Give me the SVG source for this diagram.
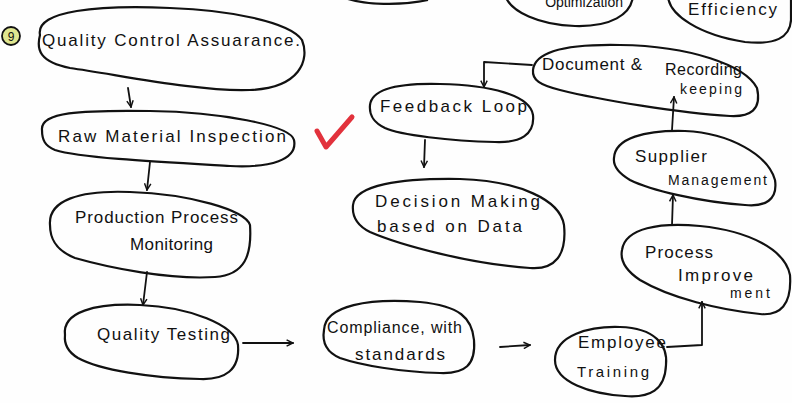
<svg xmlns="http://www.w3.org/2000/svg" width="792" height="403" viewBox="0 0 792 403">
<style>
.n{fill:none;stroke:#111;stroke-width:2.2;stroke-linejoin:round}
.c{fill:none;stroke:#111;stroke-width:1.8;stroke-linecap:round;stroke-linejoin:round}
text{font-family:"Liberation Sans",Arial,sans-serif;font-size:17px;fill:#111}
.s{font-size:14px}
</style>
<defs>
<marker id="ah" viewBox="0 0 10 10" refX="9" refY="5" markerWidth="8" markerHeight="8" markerUnits="userSpaceOnUse" orient="auto">
<path d="M1,1 L9,5 L1,9" fill="none" stroke="#111" stroke-width="1.8"/>
</marker>
</defs>
<rect width="792" height="403" fill="#fefefe"/>

<g id="top-partial">
<path class="n" d="M345,-2 C365,5 400,6 428,0"/>
</g>
<g id="optimization">
<path class="n" d="M505,-5 C510,12 540,25 575,26 C610,27 632,15 633,-5"/>
<text x="623" y="7" text-anchor="end" class="s">Optimization</text>
</g>
<g id="efficiency">
<path class="n" d="M668,-5 C668,15 700,35 745,42 C775,45 790,38 791,20 L791,-5"/>
<text x="688" y="15" textLength="89" lengthAdjust="spacing">Efficiency</text>
</g>

<g id="label-number">
<circle cx="11" cy="36" r="9" fill="#dfe68f" stroke="#111" stroke-width="1.8"/>
<text x="11" y="41" text-anchor="middle" style="font-size:12px">9</text>
</g>

<g id="qc">
<path class="n" d="M40,35 C35,10 100,5 170,8 C230,10 290,22 302,40 C310,60 300,88 250,90 C200,92 120,75 70,68 C40,62 36,50 40,35 Z"/>
<text x="42" y="46" textLength="258" lengthAdjust="spacing">Quality Control Assuarance.</text>
</g>

<g id="raw">
<path class="n" d="M42,130 C40,112 80,110 150,111 C220,112 290,125 294,140 C298,160 270,168 230,166 C160,162 80,158 55,150 C45,146 42,140 42,130 Z"/>
<text x="58" y="142" textLength="228" lengthAdjust="spacing">Raw Material Inspection</text>
</g>

<g id="check">
<path d="M317,131 L326,147 L352,117" fill="none" stroke="#e2323c" stroke-width="5" stroke-linecap="round" stroke-linejoin="round"/>
</g>

<g id="production">
<path class="n" d="M50,225 C48,200 80,190 130,192 C190,194 245,210 250,225 C252,255 245,275 215,277 C170,280 110,268 75,258 C55,250 50,238 50,225 Z"/>
<text x="75" y="223" textLength="163" lengthAdjust="spacing">Production Process</text>
<text x="130" y="250" textLength="83" lengthAdjust="spacing">Monitoring</text>
</g>

<g id="testing">
<path class="n" d="M65,335 C62,312 95,303 140,305 C190,307 235,325 238,345 C240,370 225,380 200,379 C150,378 100,370 78,358 C68,352 64,344 65,335 Z"/>
<text x="97" y="340" textLength="133" lengthAdjust="spacing">Quality Testing</text>
</g>

<g id="compliance">
<path class="n" d="M324,330 C325,305 370,298 420,302 C460,306 472,318 474,340 C476,365 465,374 440,373 C400,372 360,365 340,358 C326,352 322,342 324,330 Z"/>
<text x="327" y="333" textLength="135" lengthAdjust="spacing" style="font-size:16px">Compliance, with</text>
<text x="355" y="360" textLength="90" lengthAdjust="spacing">standards</text>
</g>

<g id="employee">
<path class="n" d="M555,360 C555,335 590,326 620,327 C655,328 668,345 666,365 C665,390 650,398 625,396 C590,394 555,382 555,360 Z"/>
<text x="578" y="348" textLength="88" lengthAdjust="spacing">Employee</text>
<text x="577" y="377" textLength="72" lengthAdjust="spacing" style="font-size:15px">Training</text>
</g>

<g id="process">
<path class="n" d="M622,250 C625,228 660,222 700,226 C750,231 785,250 790,275 C792,305 780,316 760,314 C720,310 670,298 640,280 C625,270 620,260 622,250 Z"/>
<text x="645" y="258" textLength="68" lengthAdjust="spacing">Process</text>
<text x="678" y="281" textLength="75" lengthAdjust="spacing">Improve</text>
<text x="730" y="298" textLength="40" lengthAdjust="spacing" class="s">ment</text>
</g>

<g id="supplier">
<path class="n" d="M614,158 C615,138 645,130 685,131 C730,133 768,155 775,180 C778,200 765,207 745,205 C700,202 650,190 630,180 C618,173 613,166 614,158 Z"/>
<text x="635" y="162" textLength="72" lengthAdjust="spacing">Supplier</text>
<text x="668" y="185" textLength="99" lengthAdjust="spacing" class="s">Management</text>
</g>

<g id="document">
<path class="n" d="M533,70 C535,50 570,44 620,45 C690,46 745,65 757,88 C762,110 750,117 730,116 C680,113 600,100 560,90 C540,85 532,80 533,70 Z"/>
<text x="542" y="70" textLength="100" lengthAdjust="spacing">Document &amp;</text>
<text x="665" y="75" textLength="77" lengthAdjust="spacing" style="font-size:16px">Recording</text>
<text x="680" y="94" textLength="62" lengthAdjust="spacing" class="s">keeping</text>
</g>

<g id="feedback">
<path class="n" d="M370,105 C372,88 400,83 440,84 C490,85 530,95 533,115 C535,135 520,143 495,142 C450,141 400,135 385,128 C373,122 369,115 370,105 Z"/>
<text x="380" y="112" textLength="147" lengthAdjust="spacing">Feedback Loop</text>
</g>

<g id="decision">
<path class="n" d="M353,205 C355,185 400,178 460,179 C520,181 560,200 564,225 C567,255 555,270 530,268 C470,264 400,245 370,232 C356,225 352,215 353,205 Z"/>
<text x="375" y="207" textLength="165" lengthAdjust="spacing">Decision Making</text>
<text x="377" y="232" textLength="145" lengthAdjust="spacing">based on Data</text>
</g>

<g id="connectors">
<path class="c" d="M128,88 L131,107" marker-end="url(#ah)"/>
<path class="c" d="M150,162 L147,190" marker-end="url(#ah)"/>
<path class="c" d="M147,272 L143,305" marker-end="url(#ah)"/>
<path class="c" d="M243,343 L293,343" marker-end="url(#ah)"/>
<path class="c" d="M500,347 L530,345" marker-end="url(#ah)"/>
<path class="c" d="M667,347 L702,345 L702,302" marker-end="url(#ah)"/>
<path class="c" d="M672,225 L673,195" marker-end="url(#ah)"/>
<path class="c" d="M672,130 L674,97" marker-end="url(#ah)"/>
<path class="c" d="M532,65 L484,62 L484,87" marker-end="url(#ah)"/>
<path class="c" d="M425,140 L424,167" marker-end="url(#ah)"/>
</g>
</svg>
